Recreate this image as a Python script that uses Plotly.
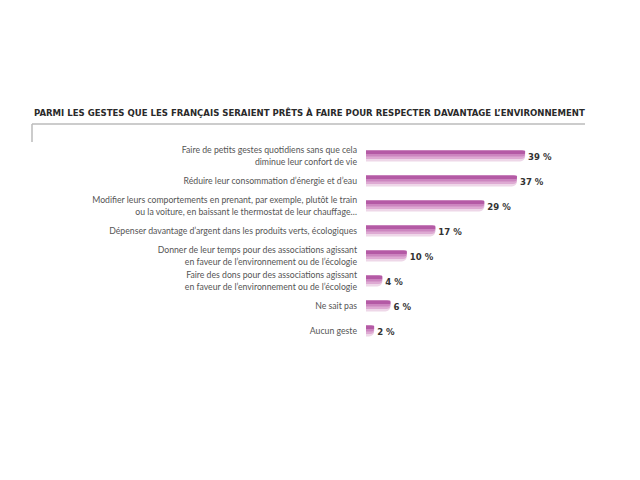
import plotly.graph_objects as go

categories = [
    "Faire de petits gestes quotidiens sans que cela<br>diminue leur confort de vie",
    "Réduire leur consommation d’énergie et d’eau",
    "Modifier leurs comportements en prenant, par exemple, plutôt le train<br>ou la voiture, en baissant le thermostat de leur chauffage…",
    "Dépenser davantage d’argent dans les produits verts, écologiques",
    "Donner de leur temps pour des associations agissant<br>en faveur de l’environnement ou de l’écologie",
    "Faire des dons pour des associations agissant<br>en faveur de l’environnement ou de l’écologie",
    "Ne sait pas",
    "Aucun geste",
]
values = [39, 37, 29, 17, 10, 4, 6, 2]
value_labels = [f"{v} %" for v in values]
title = "PARMI LES GESTES QUE LES FRANÇAIS SERAIENT PRÊTS À FAIRE POUR RESPECTER DAVANTAGE L’ENVIRONNEMENT"

COND = "DejaVu Sans Condensed, Roboto Condensed, Roboto, sans-serif"

fig = go.Figure()
# gradient layers (light bottom -> dark top)
layers = [
    ("#eed7e8", 0.44, -0.22),
    ("#deaad3", 0.34, -0.22),
    ("#cc85bf", 0.24, -0.22),
    ("#b45aa5", 0.14, -0.22),
]
for i, (col, w, off) in enumerate(layers):
    fig.add_trace(go.Bar(
        y=categories, x=values, orientation="h",
        marker=dict(color=col, cornerradius="50%", line=dict(width=0)),
        width=w, offset=off,
        text=value_labels if i == 0 else None,
        textposition="outside" if i == 0 else "none",
        textfont=dict(family=COND, size=9.5, color="#333333", weight="bold"),
        cliponaxis=False,
        hoverinfo="skip",
        showlegend=False,
    ))

fig.update_layout(
    width=640, height=480,
    margin=dict(l=0, r=0, t=0, b=0),
    paper_bgcolor="white", plot_bgcolor="white",
    barmode="overlay",
    xaxis=dict(domain=[366/640, 570/640], range=[0, 50], visible=False, fixedrange=True),
    yaxis=dict(domain=[1-343.5/480, 1-143.5/480], autorange="reversed",
               showgrid=False, zeroline=False, showline=False, ticks="",
               ticklabelstandoff=8,
               tickfont=dict(family="Lato", size=8.7, color="#555555")),
    font=dict(family="Lato"),
    annotations=[dict(
        text=title, xref="paper", yref="paper", x=309/640, y=1-113/480,
        xanchor="center", yanchor="middle", showarrow=False,
        font=dict(family=COND, size=9.5, color="#2a2a2a", weight="bold"),
    )],
    shapes=[
        dict(type="line", xref="paper", yref="paper", x0=32/640, x1=585/640,
             y0=1-124/480, y1=1-124/480, line=dict(color="#bbbbbb", width=1.5)),
        dict(type="line", xref="paper", yref="paper", x0=32/640, x1=32/640,
             y0=1-124/480, y1=1-142/480, line=dict(color="#bbbbbb", width=1.5)),
    ],
)

fig.write_html("out.html")
